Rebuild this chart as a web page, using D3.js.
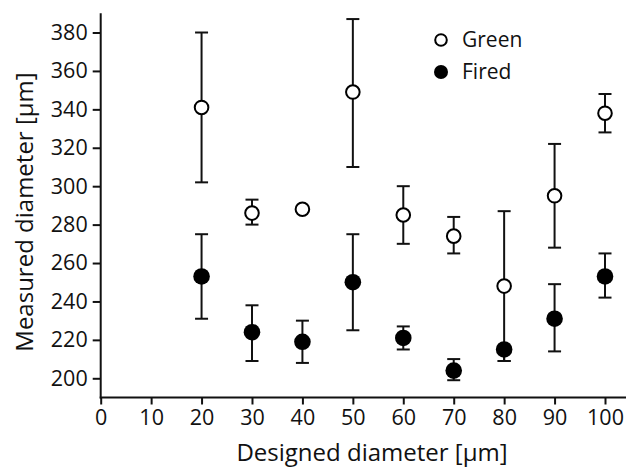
<!DOCTYPE html>
<html>
<head>
<meta charset="utf-8">
<script src="https://cdn.jsdelivr.net/npm/d3@7"></script>
<style>
  html, body { margin: 0; padding: 0; background: #fff; }
  svg { display: block; }
  text { font-family: "Open Sans", sans-serif; fill: #111; }
</style>
</head>
<body>
<div id="chart"></div>
<script>
// ---- data ----
const designed = [20, 30, 40, 50, 60, 70, 80, 90, 100];
const greenMean = [341, 286, 288, 349, 285, 274, 248, 295, 338];
const greenHigh = [380, 293, 288, 387, 300, 284, 287, 322, 348];
const greenLow  = [302, 280, 288, 310, 270, 265, 209, 268, 328];
const firedMean = [253, 224, 219, 250, 221, 204, 215, 231, 253];
const firedHigh = [275, 238, 230, 275, 227, 210, 216, 249, 265];
const firedLow  = [231, 209, 208, 225, 215, 199, 209, 214, 242];
const xTicks = [0, 10, 20, 30, 40, 50, 60, 70, 80, 90, 100];
const yTicks = [200, 220, 240, 260, 280, 300, 320, 340, 360, 380];
const seriesNames = ["Green", "Fired"];
const xTitle = "Designed diameter [μm]";
const yTitle = "Measured diameter [μm]";

const W = 628, H = 468;
const svg = d3.select("#chart").append("svg").attr("width", W).attr("height", H);

const x = d3.scaleLinear().domain([0, 100]).range([100.7, 605]);
const y = d3.scaleLinear().domain([190, 390]).range([397.5, 13.3]);

const axisColor = "#111";
const tickFont = 21.5, titleFont = 24, legFont = 21;
// axes
const xAxis = d3.axisBottom(x).tickValues(xTicks).tickSize(7).tickSizeOuter(0).tickPadding(5);
const gx = svg.append("g").attr("transform", `translate(0,${y(190)})`).call(xAxis);
gx.select(".domain").remove();
gx.selectAll(".tick line").attr("stroke", axisColor).attr("stroke-width", 2);
gx.selectAll(".tick text").attr("font-size", tickFont).attr("dy", "0.72em").style("font-family", "'Open Sans', sans-serif");
svg.append("line").attr("x1", x(0) - 1).attr("x2", 626).attr("y1", y(190)).attr("y2", y(190))
  .attr("stroke", axisColor).attr("stroke-width", 2);

const yAxis = d3.axisLeft(y).tickValues(yTicks).tickSize(8).tickSizeOuter(0).tickPadding(5);
const gy = svg.append("g").attr("transform", `translate(${x(0)},0)`).call(yAxis);
gy.select(".domain").remove();
gy.selectAll(".tick line").attr("stroke", axisColor).attr("stroke-width", 2);
gy.selectAll(".tick text").attr("font-size", tickFont).style("font-family", "'Open Sans', sans-serif");
svg.append("line").attr("x1", x(0)).attr("x2", x(0)).attr("y1", y(190) + 1).attr("y2", y(390))
  .attr("stroke", axisColor).attr("stroke-width", 2);

// titles
svg.append("text").attr("x", 372).attr("y", 461).attr("text-anchor", "middle")
  .attr("font-size", titleFont).text(xTitle);
svg.append("text").attr("transform", `translate(33,${212}) rotate(-90)`).attr("text-anchor", "middle")
  .attr("font-size", titleFont).text(yTitle);

// error bars
const capW = 6.5;
function errBars(means, highs, lows) {
  designed.forEach((d, i) => {
    if (highs[i] === lows[i]) return;
    const g = svg.append("g").attr("stroke", axisColor).attr("stroke-width", 2);
    g.append("line").attr("x1", x(d)).attr("x2", x(d)).attr("y1", y(highs[i])).attr("y2", y(lows[i]));
    [highs[i], lows[i]].forEach(v => {
      g.append("line").attr("x1", x(d) - capW).attr("x2", x(d) + capW).attr("y1", y(v)).attr("y2", y(v));
    });
  });
}
errBars(firedMean, firedHigh, firedLow);
errBars(greenMean, greenHigh, greenLow);

// markers
svg.append("g").selectAll("circle").data(designed).join("circle")
  .attr("cx", d => x(d)).attr("cy", (d, i) => y(firedMean[i])).attr("r", 8.3)
  .attr("fill", "#000");
svg.append("g").selectAll("circle").data(designed).join("circle")
  .attr("cx", d => x(d)).attr("cy", (d, i) => y(greenMean[i])).attr("r", 6.8)
  .attr("fill", "#fff").attr("stroke", "#000").attr("stroke-width", 2);

// legend
const leg = svg.append("g");
leg.append("circle").attr("cx", 441).attr("cy", 40).attr("r", 5.8).attr("fill", "#fff").attr("stroke", "#000").attr("stroke-width", 2);
leg.append("circle").attr("cx", 441).attr("cy", 72).attr("r", 7).attr("fill", "#000");
leg.append("text").attr("x", 462).attr("y", 47).attr("font-size", legFont).text(seriesNames[0]);
leg.append("text").attr("x", 462).attr("y", 79).attr("font-size", legFont).text(seriesNames[1]);
</script>
</body>
</html>
